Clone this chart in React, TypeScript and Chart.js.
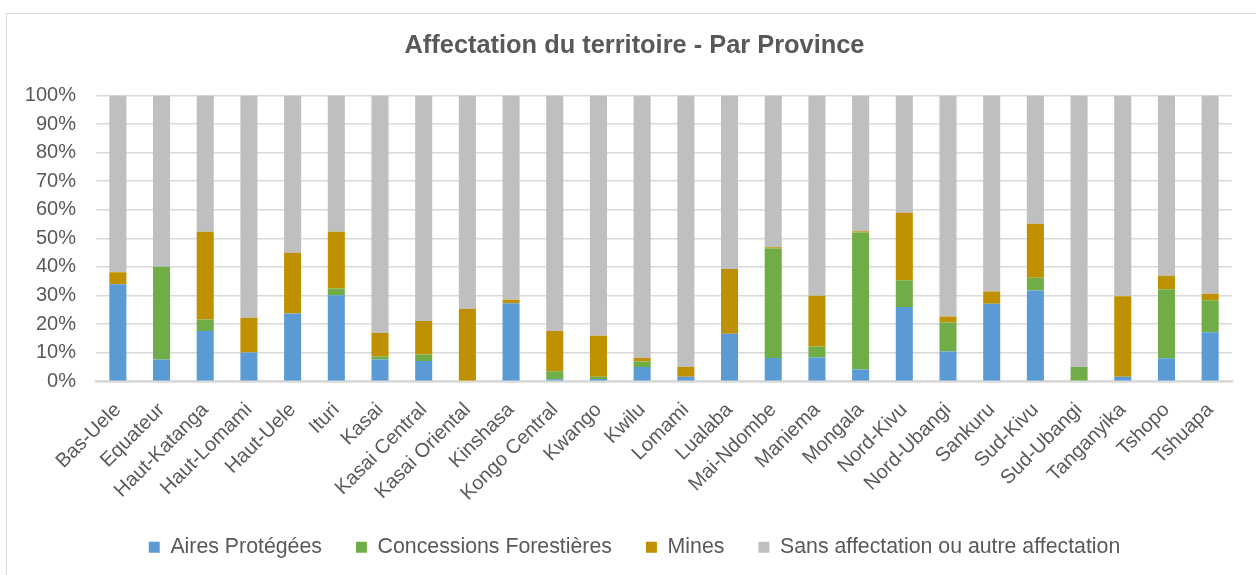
import React, { useEffect, useRef } from "react";
import { Chart, registerables } from "chart.js";

Chart.register(...registerables);

const provinces = [
  "Bas-Uele", "Equateur", "Haut-Katanga", "Haut-Lomami", "Haut-Uele", "Ituri",
  "Kasai", "Kasai Central", "Kasai Oriental", "Kinshasa", "Kongo Central", "Kwango",
  "Kwilu", "Lomami", "Lualaba", "Mai-Ndombe", "Maniema", "Mongala", "Nord-Kivu",
  "Nord-Ubangi", "Sankuru", "Sud-Kivu", "Sud-Ubangi", "Tanganyika", "Tshopo", "Tshuapa",
];

const airesProtegees = [34.0, 7.6, 17.6, 10.1, 23.7, 30.1, 7.6, 7.1, 0, 27.3, 0.7, 0.8, 5.0, 1.6, 16.6, 8.2, 8.3, 4.1, 26.0, 10.4, 27.1, 31.8, 0, 1.6, 8.1, 17.2];
const concessionsForestieres = [0, 32.5, 4.0, 0, 0, 2.4, 1.1, 2.3, 0, 0, 2.8, 0.8, 1.9, 0, 0, 38.3, 3.9, 48.0, 9.4, 10.2, 0, 4.4, 5.0, 0, 24.1, 11.2];
const mines = [4.2, 0, 30.7, 12.1, 21.3, 19.8, 8.2, 11.7, 25.3, 1.2, 14.1, 14.3, 1.3, 3.4, 22.7, 0.4, 17.7, 0.4, 23.6, 2.1, 4.3, 18.9, 0, 28.2, 4.7, 2.2];
const sansAffectation = [61.8, 59.9, 47.7, 77.8, 55.0, 47.7, 83.1, 78.9, 74.7, 71.5, 82.4, 84.1, 91.8, 95.0, 60.7, 53.1, 70.1, 47.5, 41.0, 77.3, 68.6, 44.9, 95.0, 70.2, 63.1, 69.4];

const yTicks = [0, 10, 20, 30, 40, 50, 60, 70, 80, 90, 100];

const TEXT = "#595959";
const GRID = "#d9d9d9";
const FONT = "'Liberation Sans', Arial, sans-serif";

export default function App() {
  const canvasRef = useRef<HTMLCanvasElement | null>(null);

  useEffect(() => {
    const canvas = canvasRef.current;
    if (!canvas) return;
    const chart = new Chart(canvas, {
      type: "bar",
      data: {
        labels: provinces,
        datasets: [
          { label: "Aires Protégées", data: airesProtegees, backgroundColor: "#5B9BD5" },
          { label: "Concessions Forestières", data: concessionsForestieres, backgroundColor: "#70AD47" },
          { label: "Mines", data: mines, backgroundColor: "#BF9000" },
          { label: "Sans affectation ou autre affectation", data: sansAffectation, backgroundColor: "#BFBFBF" },
        ],
      },
      options: {
        responsive: false,
        animation: false,
        devicePixelRatio: 1,
        layout: { padding: { left: 37, right: 24, top: 0, bottom: 7 } },
        datasets: { bar: { barPercentage: 0.39, categoryPercentage: 1 } },
        plugins: {
          title: {
            display: true,
            text: "Affectation du territoire - Par Province",
            color: TEXT,
            font: { family: FONT, size: 25.4, weight: "bold" },
            padding: { top: 31, bottom: 34 },
          },
          legend: {
            position: "bottom",
            labels: {
              boxWidth: 11,
              boxHeight: 11,
              color: TEXT,
              font: { family: FONT, size: 21.3 },
              padding: 34,
            },
          },
          tooltip: { enabled: false },
        },
        scales: {
          x: {
            stacked: true,
            grid: { display: false },
            border: { display: true, color: GRID, width: 2.5 },
            ticks: {
              color: TEXT,
              font: { family: FONT, size: 20 },
              minRotation: 45,
              maxRotation: 45,
              autoSkip: false,
              padding: 9,
            },
            afterFit: (scale: any) => {
              scale.paddingLeft = 0;
              scale.paddingRight = 0;
              scale.height = scale.height - 12;
            },
          },
          y: {
            stacked: true,
            min: 0,
            max: 100,
            afterBuildTicks: (axis: any) => {
              axis.ticks = yTicks.map((v) => ({ value: v }));
            },
            afterFit: (scale: any) => {
              scale.width = 59;
              scale._computeLabelArea = () => undefined;
            },
            grid: { color: GRID, lineWidth: 1.5, drawTicks: false },
            border: { display: false },
            ticks: {
              color: TEXT,
              font: { family: FONT, size: 20 },
              padding: 20,
              callback: (v: any) => v + "%",
            },
          },
        },
      },
    });
    return () => chart.destroy();
  }, []);

  return (
    <div style={{ position: "fixed", left: 0, top: 0, width: 1256, height: 575, overflow: "hidden", background: "#fff" }}>
      <div
        style={{
          position: "absolute",
          left: 6,
          top: 13,
          width: 1300,
          height: 620,
          borderLeft: "1.5px solid #d9d9d9",
          borderTop: "1.5px solid #d9d9d9",
        }}
      />
      <canvas ref={canvasRef} width={1256} height={575} style={{ position: "absolute", left: 0, top: 0, width: 1256, height: 575 }} />
    </div>
  );
}
